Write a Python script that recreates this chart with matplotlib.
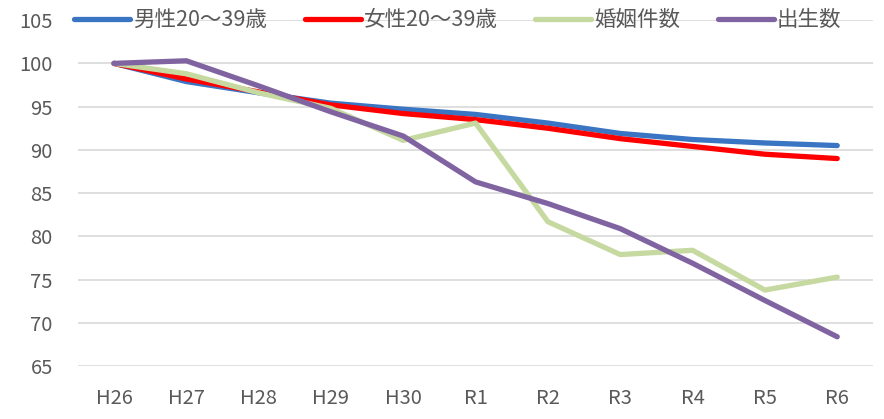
import matplotlib.pyplot as plt

plt.rcParams["font.family"] = ["Noto Sans CJK JP", "DejaVu Sans"]

# --- Data -------------------------------------------------------------------
YEARS = ["H26", "H27", "H28", "H29", "H30", "R1", "R2", "R3", "R4", "R5", "R6"]

MALE_20_39 = [100, 97.9, 96.6, 95.4, 94.7, 94.1, 93.1, 91.9, 91.2, 90.8, 90.5]
FEMALE_20_39 = [100, 98.2, 96.7, 95.2, 94.2, 93.5, 92.5, 91.3, 90.4, 89.5, 89.0]
MARRIAGES = [100, 98.8, 96.6, 94.8, 91.1, 93.1, 81.7, 77.9, 78.4, 73.8, 75.3]
BIRTHS = [100, 100.3, 97.4, 94.4, 91.6, 86.3, 83.8, 80.9, 76.9, 72.6, 68.4]

SERIES = [
    ("男性20～39歳", MALE_20_39, "#3a75c4"),
    ("女性20～39歳", FEMALE_20_39, "#ff0000"),
    ("婚姻件数", MARRIAGES, "#c6d9a0"),
    ("出生数", BIRTHS, "#8064a2"),
]

FONT_SIZE = 14.5
LEGEND_SIZE = 15.5


def main():
    fig = plt.figure(figsize=(8.84, 4.19), dpi=100)
    ax = fig.add_axes([0.088, 0.126, 0.90, 0.826])

    x = range(len(YEARS))
    for label, values, color in SERIES:
        ax.plot(x, values, color=color, linewidth=3.8, label=label,
                solid_capstyle="round", solid_joinstyle="round")

    ax.set_xlim(-0.5, len(YEARS) - 0.5)
    ax.set_ylim(65, 105)
    ax.set_yticks(range(65, 106, 5))
    ax.set_xticks(list(x))
    ax.set_xticklabels(YEARS)

    ax.grid(axis="y", color="#d9d9d9", linewidth=1.2)
    ax.set_axisbelow(True)
    for spine in ax.spines.values():
        spine.set_visible(False)
    ax.tick_params(length=0, colors="#595959", labelsize=FONT_SIZE)
    ax.tick_params(axis="x", pad=16)
    ax.tick_params(axis="y", pad=18)

    # legend sits on top of the 105 gridline
    ax.legend(
        loc="center left",
        bbox_to_anchor=(0.084, 0.952),
        bbox_transform=fig.transFigure,
        ncol=4,
        frameon=False,
        fontsize=LEGEND_SIZE,
        labelcolor="#595959",
        handlelength=2.6,
        handletextpad=0.14,
        columnspacing=1.75,
        borderpad=0,
        borderaxespad=0,
    )

    fig.savefig("out.png", dpi=100)


if __name__ == "__main__":
    main()
